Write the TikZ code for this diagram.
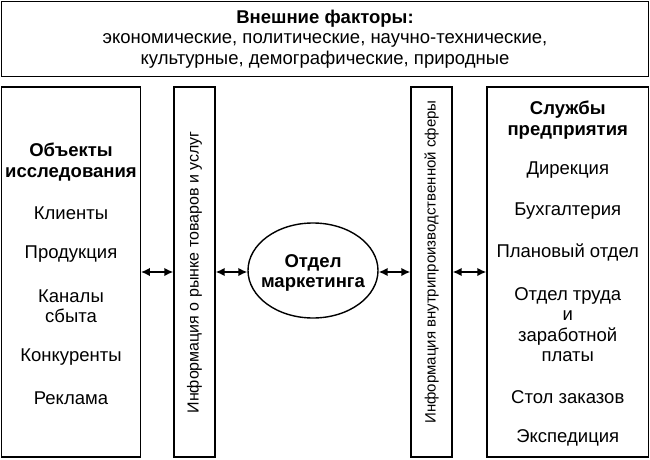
\documentclass[tikz,border=0pt]{standalone}
\usepackage{fontspec}
\setmainfont{Liberation Sans}
\usetikzlibrary{arrows.meta,shapes.geometric}
\begin{document}
\begin{tikzpicture}[x=1pt,y=-1pt,
  box/.style={draw,line width=1.4pt,inner sep=0pt},
  txt/.style={align=center,inner sep=0pt,font=\fontsize{18.5}{20.5}\selectfont},
  btxt/.style={txt,font=\fontsize{18.5}{20.5}\selectfont\bfseries},
  vtxt/.style={inner sep=0pt,rotate=90},
  link/.style={line width=1.6pt,{Latex[length=9pt,width=8.5pt]}-{Latex[length=9pt,width=8.5pt]}}]
\useasboundingbox (0,0) rectangle (650,460);
% boxes
\node[box,minimum width=647pt,minimum height=75pt] (top) at (325,39) {};
\node[box,minimum width=138.5pt,minimum height=370pt] (left) at (71,272) {};
\node[box,minimum width=41pt,minimum height=370pt] (info1) at (194.5,272) {};
\node[box,ellipse,minimum width=130pt,minimum height=95pt] (dept) at (313,270.5) {};
\node[box,minimum width=41pt,minimum height=370pt] (info2) at (431.5,272) {};
\node[box,minimum width=161.5pt,minimum height=370pt] (right) at (567.75,272) {};
% top texts
\node[btxt] (tt) at (325,18.5) {Внешние факторы:};
\node[txt] (t2) at (325,51) {экономические, политические, научно-технические,\\культурные, демографические, природные};
% left texts
\node[btxt] (lt) at (71,162) {Объекты\\исследования};
\node[txt] (l1) at (71,213) {Клиенты};
\node[txt] (l2) at (71,254) {Продукция};
\node[txt] (l3) at (71,306) {Каналы\\сбыта};
\node[txt] (l4) at (71,357) {Конкуренты};
\node[txt] (l5) at (71,398) {Реклама};
% vertical texts
\node[vtxt,font=\fontsize{16}{18}\selectfont] (v1) at (194.5,272.5) {Информация о рынке товаров и услуг};
\node[vtxt,font=\fontsize{15}{18}\selectfont] (v2) at (431.5,262) {Информация внутрипроизводственной сферы};
% ellipse text
\node[btxt] (dt) at (313,273) {Отдел\\маркетинга};
% right texts
\node[btxt] (rt) at (567.75,120) {Службы\\предприятия};
\node[txt] (r1) at (567.75,170) {Дирекция};
\node[txt] (r2) at (567.75,211) {Бухгалтерия};
\node[txt] (r3) at (567.75,252) {Плановый отдел};
\node[txt] (r4) at (567.75,324.5) {Отдел труда\\и\\заработной\\платы};
\node[txt] (r5) at (567.75,397) {Стол заказов};
\node[txt] (r6) at (567.75,438) {Экспедиция};
% connectors
\draw[link] (left.east |- 0,272) -- (info1.west |- 0,272);
\draw[link] (info1.east |- 0,272) -- (dept.west |- 0,272);
\draw[link] (dept.east |- 0,272) -- (info2.west |- 0,272);
\draw[link] (info2.east |- 0,272) -- (right.west |- 0,272);
\end{tikzpicture}
\end{document}
